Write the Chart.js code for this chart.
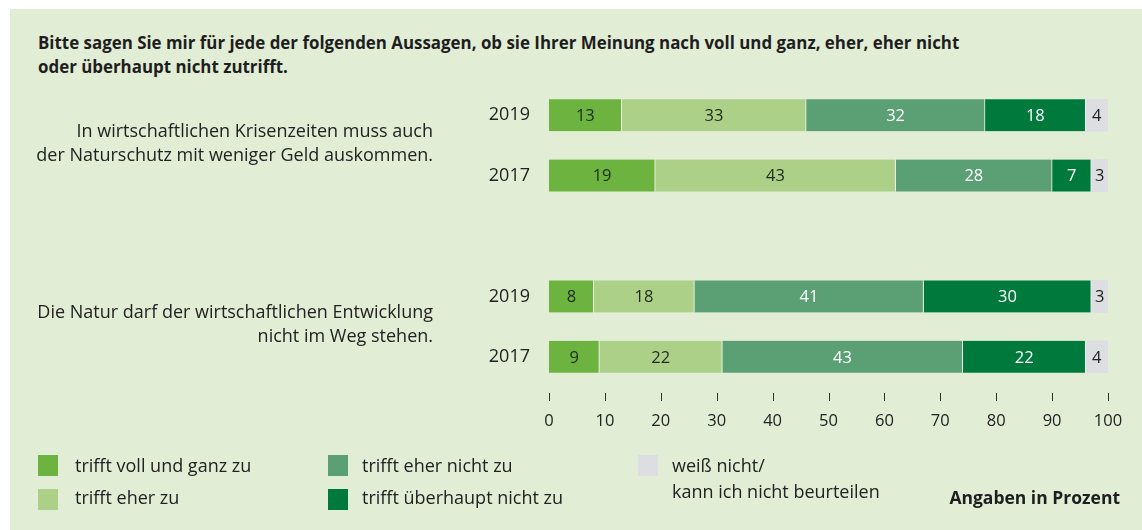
<!DOCTYPE html>
<html>
<head>
<meta charset="utf-8">
<script src="https://cdn.jsdelivr.net/npm/chart.js@4.4.1/dist/chart.umd.min.js"></script>
<style>
  html, body { margin: 0; padding: 0; background: #ffffff; }
  body { width: 1142px; height: 530px; position: relative; overflow: hidden; font-family: "Open Sans", sans-serif; color: #222; }
  #panel { position: absolute; left: 10px; top: 9px; right: 0; bottom: 0; background: #e2edd6; }
  #wrap { position: absolute; left: 0; top: 0; width: 1142px; height: 530px; }
  #title { position: absolute; left: 38px; top: 31px; font-weight: 700; font-size: 16.9px; line-height: 24px; color: #1e1e1e; white-space: nowrap; }
  .leg { position: absolute; font-size: 18px; line-height: 26px; color: #222; white-space: nowrap; }
  .box { position: absolute; width: 20px; height: 21px; }
  #note { position: absolute; right: 22px; top: 485px; font-weight: 700; font-size: 17.5px; color: #1e1e1e; white-space: nowrap; }
</style>
</head>
<body>
<div id="panel"></div>
<div id="title">Bitte sagen Sie mir für jede der folgenden Aussagen, ob sie Ihrer Meinung nach voll und ganz, eher, eher nicht<br>oder überhaupt nicht zutrifft.</div>
<div id="wrap"><canvas id="c" width="1142" height="530"></canvas></div>
<div id="legend"></div>
<div id="note">Angaben in Prozent</div>
<script>
// ---- data ----
const categories = ['2019', '2017', '', '2019', '2017'];
const statementGroups = [[0, 1], [3, 4]];
const statements = [
  ['In wirtschaftlichen Krisenzeiten muss auch', 'der Naturschutz mit weniger Geld auskommen.'],
  ['Die Natur darf der wirtschaftlichen Entwicklung', 'nicht im Weg stehen.']
];
const seriesNames = ['trifft voll und ganz zu', 'trifft eher zu', 'trifft eher nicht zu', 'trifft überhaupt nicht zu', 'weiß nicht/\nkann ich nicht beurteilen'];
const vollUndGanz     = [13, 19, null, 8, 9];
const eherZu          = [33, 43, null, 18, 22];
const eherNicht       = [32, 28, null, 41, 43];
const ueberhauptNicht = [18, 7, null, 30, 22];
const weissNicht      = [4, 3, null, 3, 4];
const xTickValues = [0, 10, 20, 30, 40, 50, 60, 70, 80, 90, 100];

// ---- styles ----
const colors = ['#6cb43f', '#acd087', '#5b9f74', '#007a3c', '#dcdee2'];
const labelColors = ['#1f2a1a', '#1f2a1a', '#ffffff', '#ffffff', '#222222'];
const seriesValues = [vollUndGanz, eherZu, eherNicht, ueberhauptNicht, weissNicht];
const FONT = '"Open Sans", sans-serif';

const datasets = seriesValues.map((vals, i) => ({
  label: seriesNames[i],
  data: vals,
  backgroundColor: colors[i],
  borderColor: '#eef4e6',
  borderWidth: i < 4 ? { top: 0, right: 1, bottom: 0, left: 0 } : 0,
  borderSkipped: false,
  barThickness: 32,
  labelColor: labelColors[i]
}));

// legend (HTML)
const legendPos = [
  { bx: 38, by: 455, tx: 75, ty: 452 },
  { bx: 38, by: 489, tx: 75, ty: 484 },
  { bx: 328, by: 455, tx: 362, ty: 452 },
  { bx: 328, by: 489, tx: 362, ty: 484 },
  { bx: 638, by: 455, tx: 672, ty: 452 }
];
const legendEl = document.getElementById('legend');
seriesNames.forEach((name, i) => {
  const p = legendPos[i];
  const b = document.createElement('div');
  b.className = 'box';
  b.style.left = p.bx + 'px'; b.style.top = p.by + 'px'; b.style.background = colors[i];
  legendEl.appendChild(b);
  const t = document.createElement('div');
  t.className = 'leg';
  t.style.left = p.tx + 'px'; t.style.top = p.ty + 'px';
  t.innerHTML = name.split('\n').join('<br>');
  legendEl.appendChild(t);
});

const segmentLabels = {
  id: 'segmentLabels',
  afterDatasetsDraw(chart) {
    const ctx = chart.ctx;
    ctx.save();
    ctx.font = '16.5px ' + FONT;
    ctx.textAlign = 'center';
    ctx.textBaseline = 'middle';
    chart.data.datasets.forEach((ds, di) => {
      const meta = chart.getDatasetMeta(di);
      meta.data.forEach((el, i) => {
        const v = ds.data[i];
        if (v == null) return;
        const p = el.getProps(['x', 'y', 'base'], true);
        ctx.fillStyle = ds.labelColor;
        ctx.fillText(String(v), (p.x + p.base) / 2, p.y + 1);
      });
    });
    ctx.restore();
  }
};

const extras = {
  id: 'extras',
  afterDraw(chart) {
    const ctx = chart.ctx;
    const x = chart.scales.x, y = chart.scales.y;
    const b = chart.chartArea.bottom;
    ctx.save();
    // tick marks
    ctx.strokeStyle = '#333';
    ctx.lineWidth = 1;
    xTickValues.forEach(v => {
      const px = Math.round(x.getPixelForValue(v)) + 0.5;
      ctx.beginPath();
      ctx.moveTo(px, b + 6);
      ctx.lineTo(px, b + 14);
      ctx.stroke();
    });
    // statement labels
    ctx.fillStyle = '#222';
    ctx.font = '18px ' + FONT;
    ctx.textAlign = 'right';
    ctx.textBaseline = 'middle';
    statementGroups.forEach((g, gi) => {
      const cy = (y.getPixelForValue(g[0]) + y.getPixelForValue(g[1])) / 2;
      const lines = statements[gi];
      const lh = 24;
      const start = cy - (lines.length - 1) * lh / 2 - 2;
      lines.forEach((ln, li) => ctx.fillText(ln, 433, start + li * lh));
    });
    ctx.restore();
  }
};

new Chart(document.getElementById('c'), {
  type: 'bar',
  data: { labels: categories, datasets },
  options: {
    indexAxis: 'y',
    responsive: false,
    animation: false,
    layout: { padding: { left: 0, right: 34, top: 85, bottom: 83 } },
    plugins: { legend: { display: false }, tooltip: { enabled: false }, title: { display: false } },
    scales: {
      x: {
        stacked: true,
        min: 0, max: 100,
        border: { display: false },
        grid: { display: false, drawTicks: false },
        ticks: { stepSize: 10, color: '#222', font: { family: FONT, size: 16.5 }, padding: 24 },
        afterFit(s) { s.height = 60; s.paddingLeft = 0; s.paddingRight = 0; }
      },
      y: {
        stacked: true,
        offset: true,
        border: { display: false },
        grid: { display: false, drawTicks: false },
        ticks: { color: '#222', font: { family: FONT, size: 18 }, padding: 19 },
        afterFit(s) { s.width = 549; s.paddingTop = 0; s.paddingBottom = 0; }
      }
    }
  },
  plugins: [segmentLabels, extras]
});
</script>
</body>
</html>
